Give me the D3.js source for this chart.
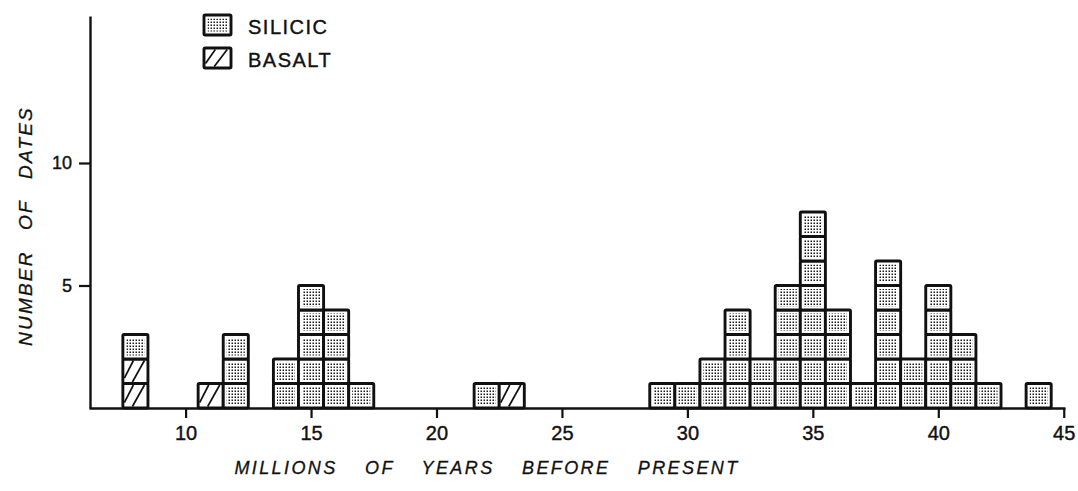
<!DOCTYPE html>
<html><head><meta charset="utf-8">
<script src="https://cdn.jsdelivr.net/npm/d3@7"></script>
<style>body{margin:0;background:#fff} svg{display:block}</style>
</head><body><svg id="c" width="1078" height="491"></svg>
<script>
// ---- data ----
const ages    = [8,11,12,14,15,16,17,22,23,29,30,31,32,33,34,35,36,37,38,39,40,41,42,44];
const silicic = [1,0,3,2,5,4,1,1,0,1,1,2,4,2,5,8,4,1,6,2,5,3,1,1];
const basalt  = [2,1,0,0,0,0,0,0,1,0,0,0,0,0,0,0,0,0,0,0,0,0,0,0];
const seriesNames = ["SILICIC","BASALT"];
const xTicks = [10,15,20,25,30,35,40,45];
const yTicks = [5,10];
const xTitle = "MILLIONS OF YEARS BEFORE PRESENT";
const yTitle = "NUMBER OF DATES";

const FONT = "'Liberation Sans', Arial, Helvetica, sans-serif";
const svg = d3.select("#c");

const x = d3.scaleLinear().domain([6.15, 45.05]).range([89, 1065]);
const y = d3.scaleLinear().domain([0, 16]).range([408, 16]);

// patterns
const defs = svg.append("defs");
const pat = defs.append("pattern").attr("id","dots").attr("patternUnits","userSpaceOnUse")
  .attr("width",3).attr("height",3);
pat.append("rect").attr("x",0.5).attr("y",0.5).attr("width",1.5).attr("height",1.5).attr("fill","#1a1a1a");

// build boxes
const boxes = [];
ages.forEach((a,i)=>{
  let lvl = 0;
  for(let k=0;k<basalt[i];k++) boxes.push({age:a, lvl:lvl++, type:"BASALT"});
  for(let k=0;k<silicic[i];k++) boxes.push({age:a, lvl:lvl++, type:"SILICIC"});
});

function drawBox(g, x0, y0, w, h, type){
  g.append("rect").attr("x",x0).attr("y",y0).attr("width",w).attr("height",h)
    .attr("fill","#fff");
  if(type==="SILICIC"){
    g.append("rect").attr("x",x0+3.5).attr("y",y0+3.5).attr("width",w-7).attr("height",h-7)
      .attr("fill","url(#dots)");
  } else {
    g.append("line").attr("x1",x0+1.5).attr("y1",y0+h*0.78).attr("x2",x0+w*0.42).attr("y2",y0+1.5)
      .attr("stroke","#111").attr("stroke-width",1.7);
    g.append("line").attr("x1",x0+w*0.38).attr("y1",y0+h-1.5).attr("x2",x0+w*0.86).attr("y2",y0+1.5)
      .attr("stroke","#111").attr("stroke-width",1.7);
  }
  g.append("rect").attr("x",x0).attr("y",y0).attr("width",w).attr("height",h)
    .attr("fill","none").attr("stroke","#111").attr("stroke-width",2.9).attr("rx",1.2);
}

const gb = svg.append("g");
boxes.forEach(b=>{
  const x0 = x(b.age-0.5), x1 = x(b.age+0.5);
  const y0 = y(b.lvl+1), y1 = y(b.lvl);
  drawBox(gb.append("g"), x0, y0, x1-x0, y1-y0, b.type);
});

// axes
const gx = svg.append("g").attr("transform",`translate(0,${y(0)})`)
  .call(d3.axisBottom(x).tickValues(xTicks).tickSize(10).tickSizeOuter(0).tickPadding(8).tickFormat(d3.format("d")));
gx.attr("font-family",FONT).attr("font-size",20);
gx.select(".domain").attr("stroke","#111").attr("stroke-width",2.4);
gx.selectAll(".tick line").attr("stroke","#111").attr("stroke-width",2.2);
gx.selectAll(".tick text").attr("fill","#111").attr("stroke","#111").attr("stroke-width",0.4);

const gy = svg.append("g").attr("transform",`translate(${x(6.15)+1},0)`)
  .call(d3.axisLeft(y).tickValues(yTicks).tickSize(11).tickSizeOuter(0).tickPadding(7));
gy.attr("font-family",FONT).attr("font-size",18);
gy.select(".domain").attr("stroke","#111").attr("stroke-width",2.4);
gy.selectAll(".tick line").attr("stroke","#111").attr("stroke-width",2.2);
gy.selectAll(".tick text").attr("fill","#111").attr("stroke","#111").attr("stroke-width",0.4);

// titles
svg.append("text").attr("x",487).attr("y",474).attr("text-anchor","middle")
  .attr("font-family",FONT).attr("font-size",18).attr("font-style","italic")
  .attr("letter-spacing",2.4).attr("word-spacing",20).attr("fill","#111")
  .attr("stroke","#111").attr("stroke-width",0.3).text(xTitle);
svg.append("text").attr("transform","translate(32,226) rotate(-90)").attr("text-anchor","middle")
  .attr("font-family",FONT).attr("font-size",19).attr("font-style","italic")
  .attr("letter-spacing",2.2).attr("word-spacing",13).attr("fill","#111")
  .attr("stroke","#111").attr("stroke-width",0.3).text(yTitle);

// legend
const lg = svg.append("g");
seriesNames.forEach((s,i)=>{
  const ly = 15 + i*33;
  drawBox(lg.append("g"), 204, ly, 27, 20, s);
  lg.append("text").attr("x",248).attr("y",ly+19).attr("font-family",FONT).attr("font-size",20)
    .attr("letter-spacing",1.5).attr("fill","#111").attr("stroke","#111").attr("stroke-width",0.4).text(s);
});
</script></body></html>
